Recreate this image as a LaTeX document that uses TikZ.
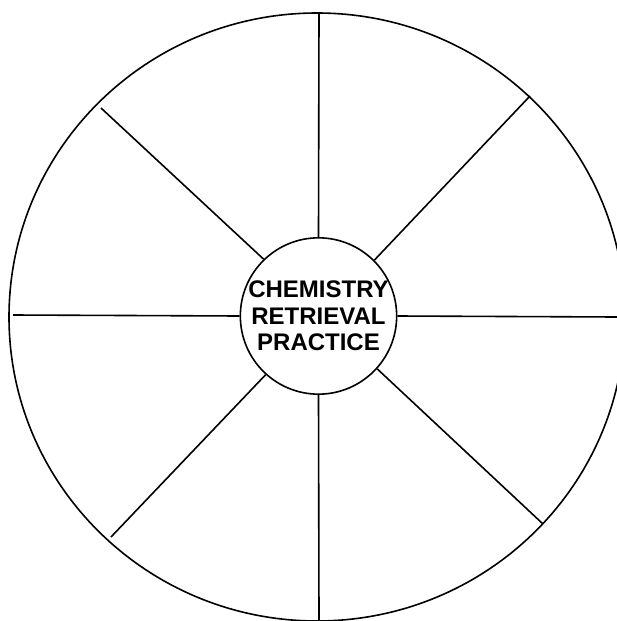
\documentclass[tikz,border=0pt]{standalone}
\usepackage{fontspec}
\setmainfont{Liberation Sans}
\usetikzlibrary{positioning}

\begin{document}
\begin{tikzpicture}[x=1pt, y=-1pt, line width=1.6pt, hub/.style={draw,circle,minimum size=155pt,inner sep=0pt,align=center,font=\fontsize{24}{26.5}\selectfont\bfseries}, spoke/.style={draw,line cap=butt}]
\useasboundingbox[fill=white] (0,0) rectangle (617,621);
\draw (317,317) ellipse [x radius=308, y radius=304];
\node[hub] (hub) at (318.5,316) {CHEMISTRY\\RETRIEVAL\\PRACTICE};
% outer ends of the spokes
\coordinate (top) at (319,13);
\coordinate (bot) at (319,621);
\coordinate (lft) at (13,315);
\coordinate (rgt) at (617,317);
\coordinate (nw) at (101,108);
\coordinate (ne) at (530,96);
\coordinate (sw) at (111,537);
\coordinate (se) at (543,524);
\draw[spoke] (hub.90) -- (top); \draw[spoke] (hub.270) -- (bot);
\draw[spoke] (hub.180) -- (lft); \draw[spoke] (hub.0) -- (rgt);
\draw[spoke] (hub.134) -- (nw); \draw[spoke] (hub.45) -- (ne);
\draw[spoke] (hub.228) -- (sw); \draw[spoke] (hub.318) -- (se);
\end{tikzpicture}
\end{document}
